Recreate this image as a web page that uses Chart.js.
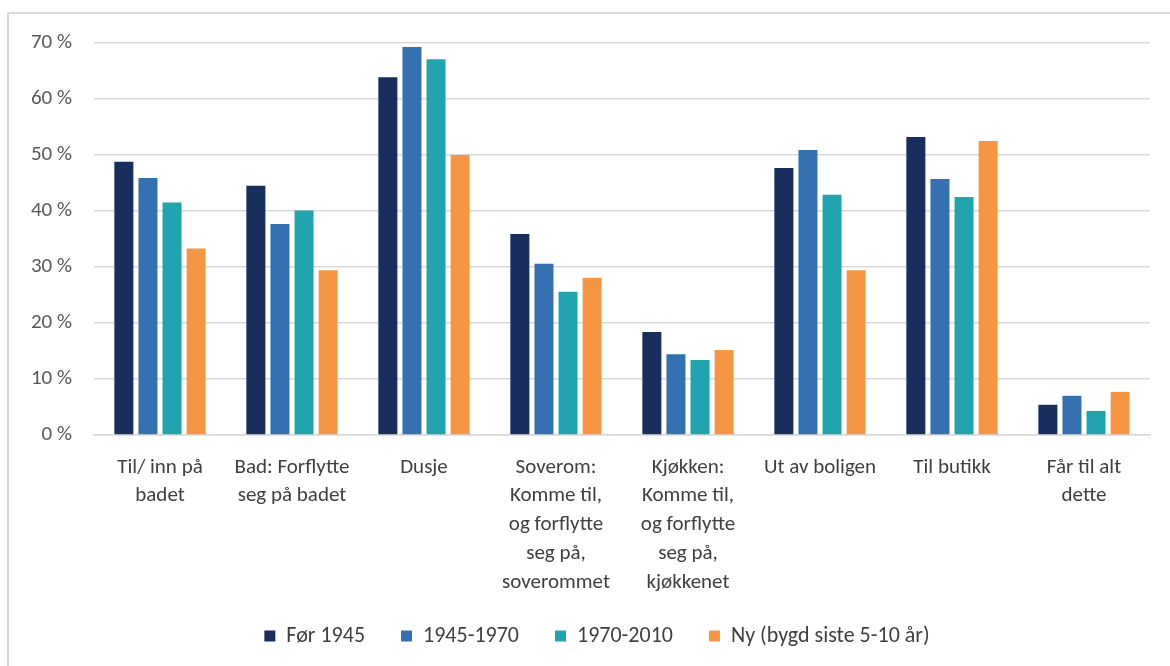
<!DOCTYPE html>
<html>
<head>
<meta charset="utf-8">
<script src="https://cdn.jsdelivr.net/npm/chart.js@4/dist/chart.umd.min.js"></script>
<style>
  html, body { margin: 0; padding: 0; background: #fff; }
  #wrap { position: relative; width: 1170px; height: 666px; overflow: hidden; }
  #frame { position: absolute; left: 7px; top: 12px; width: 1200px; height: 700px;
           border-left: 2px solid #d9d9d9; border-top: 2px solid #d9d9d9; box-sizing: border-box; }
  #c { position: absolute; left: 0; top: 0; }
</style>
</head>
<body>
<div id="wrap">
  <div id="frame"></div>
  <canvas id="c" width="1170" height="666"></canvas>
</div>
<script>
// Categories (multi-line labels) and series values in percent
const categories = [
  ['Til/ inn på', 'badet'],
  ['Bad: Forflytte', 'seg på badet'],
  ['Dusje'],
  ['Soverom:', 'Komme til,', 'og forflytte', 'seg på,', 'soverommet'],
  ['Kjøkken:', 'Komme til,', 'og forflytte', 'seg på,', 'kjøkkenet'],
  ['Ut av boligen'],
  ['Til butikk'],
  ['Får til alt', 'dette']
];
const seriesNames = ['Før 1945', '1945-1970', '1970-2010', 'Ny (bygd siste 5-10 år)'];
const for1945   = [48.8, 44.5, 63.9, 35.9, 18.4, 47.7, 53.2, 5.4];
const s1945to70 = [45.9, 37.7, 69.3, 30.6, 14.4, 50.9, 45.7, 7.0];
const s1970to10 = [41.5, 40.1, 67.1, 25.6, 13.4, 42.9, 42.5, 4.3];
const nyBygd    = [33.3, 29.4, 50.0, 28.1, 15.2, 29.4, 52.5, 7.7];
const yTicks    = [0, 10, 20, 30, 40, 50, 60, 70];
const colors    = ['#182F5D', '#3571B0', '#21A4AE', '#F69645'];

const FONT = 'Carlito, "Liberation Sans Narrow", Lato, sans-serif';

const values = [for1945, s1945to70, s1970to10, nyBygd];
const datasets = seriesNames.map((name, i) => ({
  label: name,
  data: values[i],
  backgroundColor: colors[i],
  borderWidth: 0,
  categoryPercentage: 0.73,
  barPercentage: 0.79
}));

// Nudge the bottom legend to sit under the middle of the plot area, a little higher
const legendShift = {
  id: 'legendShift',
  afterLayout(chart) {
    const lg = chart.legend;
    if (lg) { lg.left += 22; lg.right += 22; lg.top -= 9; lg.bottom -= 9; }
  }
};

new Chart(document.getElementById('c'), {
  type: 'bar',
  data: { labels: categories, datasets },
  plugins: [legendShift],
  options: {
    responsive: false,
    animation: false,
    devicePixelRatio: 1,
    layout: { padding: { left: 0, right: 20, top: 43, bottom: 0 } },
    plugins: {
      tooltip: { enabled: false },
      legend: {
        position: 'bottom',
        labels: {
          boxWidth: 11, boxHeight: 11, padding: 36,
          color: '#404040',
          font: { family: FONT, size: 22 }
        }
      }
    },
    scales: {
      x: {
        grid: { display: false, drawTicks: false },
        border: { color: '#d9d9d9', width: 1.5 },
        ticks: {
          color: '#404040', maxRotation: 0, autoSkip: false, padding: 18,
          font: { family: FONT, size: 21, lineHeight: 1.37 }
        },
        afterFit: s => { s.height = 163; }
      },
      y: {
        min: 0, max: 70,
        afterBuildTicks: s => { s.ticks = yTicks.map(v => ({ value: v })); },
        grid: { color: '#d9d9d9', lineWidth: 1.5, drawTicks: false },
        border: { display: false },
        ticks: {
          color: '#595959', padding: 22,
          font: { family: FONT, size: 21 },
          callback: v => v + ' %'
        },
        afterFit: s => { s.width = 94; }
      }
    }
  }
});
</script>
</body>
</html>
